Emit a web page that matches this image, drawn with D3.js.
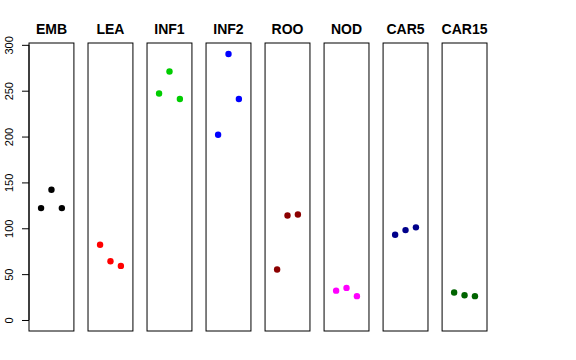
<!DOCTYPE html>
<html>
<head>
<meta charset="utf-8">
<script src="https://cdn.jsdelivr.net/npm/d3@7"></script>
<style>
  body { margin: 0; background: #fff; }
  svg { display: block; font-family: "Liberation Sans", Arial, sans-serif; }
</style>
</head>
<body>
<svg width="576" height="360"></svg>
<script>
// panel names and colours
let panels = ["EMB", "LEA", "INF1", "INF2", "ROO", "NOD", "CAR5", "CAR15"];
let colors = ["#000000", "#FF0000", "#00CD00", "#0000FF", "#8B0000", "#FF00FF", "#00008B", "#006400"];

// three replicates per panel
let reps = [1, 2, 3];
let emb = [122, 142, 122];
let lea = [82, 64, 59];
let inf1 = [247, 271, 241];
let inf2 = [202, 290, 241];
let roo = [55, 114, 115];
let nod = [32, 35, 26];
let car5 = [93, 98, 101];
let car15 = [30, 27, 26];

// y axis ticks
let yTicks = [0, 50, 100, 150, 200, 250, 300];

let series = [emb, lea, inf1, inf2, roo, nod, car5, car15];

let width = 576;
let height = 360;
let svg = d3.select("svg");

// scales
let yScale = d3.scaleLinear()
               .domain([-12, 302])
               .range([331, 43]);

let panelScale = d3.scaleBand()
                   .domain(panels)
                   .range([29, 487])
                   .paddingInner(0.239)
                   .paddingOuter(0);

let innerX = d3.scaleLinear()
               .domain([-0.16, 4.16])
               .range([0, panelScale.bandwidth()]);

// panels
let g = svg.selectAll("g.panel")
           .data(panels)
           .enter()
           .append("g")
           .attr("class", "panel")
           .attr("transform", (d) => `translate(${panelScale(d)}, 0)`);

g.append("rect")
 .attr("x", 0)
 .attr("y", yScale(302))
 .attr("width", panelScale.bandwidth())
 .attr("height", yScale(-12) - yScale(302))
 .attr("fill", "none")
 .attr("stroke", "#000")
 .attr("stroke-width", 1);

g.append("text")
 .attr("x", panelScale.bandwidth() / 2)
 .attr("y", 34)
 .attr("text-anchor", "middle")
 .attr("font-weight", "bold")
 .attr("font-size", 14)
 .text((d) => d);

g.each(function (d, i) {
  d3.select(this).selectAll("circle")
    .data(series[i])
    .enter()
    .append("circle")
    .attr("cx", (v, j) => innerX(reps[j]))
    .attr("cy", (v) => yScale(v))
    .attr("r", 3.2)
    .attr("fill", colors[i]);
});

// y axis on the first panel
let yAxis = d3.axisLeft(yScale)
              .tickValues(yTicks)
              .tickSize(7)
              .tickSizeOuter(0)
              .tickPadding(4);

let axisG = svg.append("g")
               .attr("transform", `translate(${panelScale(panels[0])}, 0)`)
               .call(yAxis);

axisG.select(".domain")
     .attr("d", `M0,${yScale(0)}V${yScale(300)}`)
     .attr("stroke", "#000");

axisG.selectAll(".tick line").attr("stroke", "#000");

axisG.selectAll(".tick text")
     .attr("font-family", "Liberation Sans, Arial, sans-serif")
     .attr("font-size", 11)
     .attr("fill", "#000")
     .attr("text-anchor", "middle")
     .attr("dy", null)
     .attr("x", null)
     .attr("transform", "translate(-16, 0) rotate(-90)")
     .attr("y", 0);
</script>
</body>
</html>
